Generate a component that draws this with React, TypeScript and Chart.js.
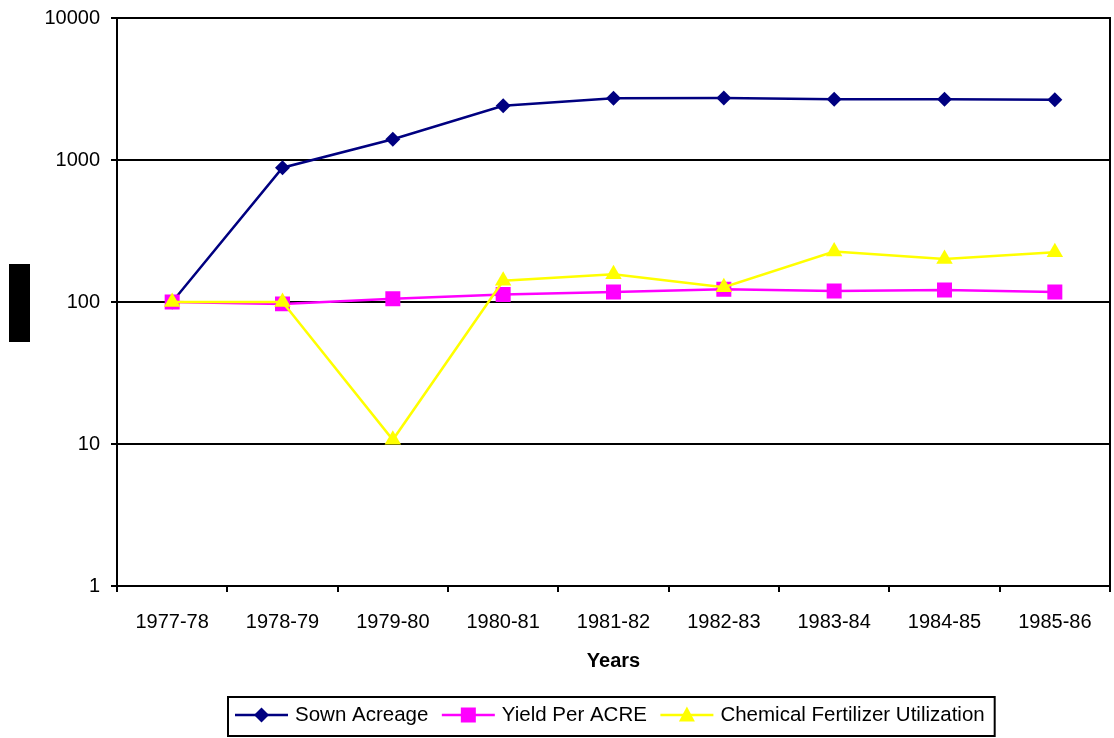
import React, { useEffect, useRef } from 'react';
import { Chart, registerables } from 'chart.js';

Chart.register(...registerables);

const categories = ['1977-78', '1978-79', '1979-80', '1980-81', '1981-82', '1982-83', '1983-84', '1984-85', '1985-86'];
const sownAcreage = [100, 883, 1399, 2411, 2720, 2733, 2676, 2676, 2658];
const yieldPerAcre = [100, 97, 105.5, 113, 117.6, 122.9, 119.5, 121.5, 117.6];
const fertilizerUtilization = [100, 100, 10.7, 141, 157, 127, 227, 201, 224];
const yTickValues = [1, 10, 100, 1000, 10000];
const seriesLabels = ['Sown Acreage', 'Yield Per ACRE', 'Chemical Fertilizer Utilization'];
const seriesColors = ['#000080', '#FF00FF', '#FFFF00'];
const xAxisTitle = 'Years';

const FONT = "'Liberation Sans', Arial, sans-serif";

function drawMarker(ctx: CanvasRenderingContext2D, kind: number, cx: number, cy: number, color: string) {
  ctx.fillStyle = color;
  ctx.beginPath();
  if (kind === 0) {
    const r = 7.5;
    ctx.moveTo(cx - r, cy);
    ctx.lineTo(cx, cy - r);
    ctx.lineTo(cx + r, cy);
    ctx.lineTo(cx, cy + r);
  } else if (kind === 1) {
    ctx.rect(cx - 7.5, cy - 7.5, 15, 15);
  } else {
    ctx.moveTo(cx, cy - 8.5);
    ctx.lineTo(cx + 8, cy + 6.5);
    ctx.lineTo(cx - 8, cy + 6.5);
  }
  ctx.closePath();
  ctx.fill();
}

function zeroPad(s: any) {
  s.paddingTop = 0;
  s.paddingBottom = 0;
  s.paddingLeft = 0;
  s.paddingRight = 0;
}

export default function App() {
  const ref = useRef<HTMLCanvasElement>(null);

  useEffect(() => {
    document.body.style.margin = '0';
    const canvas = ref.current;
    if (!canvas) return;

    const decor = {
      id: 'decor',
      beforeDatasetsDraw(chart: any) {
        const { ctx, chartArea } = chart;
        ctx.save();
        ctx.strokeStyle = '#000';
        ctx.lineWidth = 2;
        ctx.beginPath();
        ctx.moveTo(chartArea.right, chartArea.top - 1);
        ctx.lineTo(chartArea.right, chartArea.bottom);
        ctx.stroke();
        ctx.restore();
      },
      afterDraw(chart: any) {
        const { ctx, chartArea } = chart;
        ctx.save();
        // dark block at the left (axis title placeholder)
        ctx.fillStyle = '#000';
        ctx.fillRect(9, 264, 21, 78);

        // legend
        ctx.font = `20.5px ${FONT}`;
        const lineLen = 53;
        const gapText = 7;
        const gapItem = 13.5;
        const padL = 7;
        const padR = 10;
        const widths = seriesLabels.map((l) => ctx.measureText(l).width);
        let total = padL + padR + gapItem * (seriesLabels.length - 1);
        widths.forEach((w) => (total += lineLen + gapText + w));
        const center = (chartArea.left + chartArea.right) / 2 - 2;
        const boxLeft = Math.round(center - total / 2);
        const boxTop = chart.height - 41;
        const boxH = 39;
        ctx.strokeStyle = '#000';
        ctx.lineWidth = 2;
        ctx.strokeRect(boxLeft, boxTop, total, boxH);
        const cy = boxTop + boxH / 2 - 1.5;
        let x = boxLeft + padL;
        seriesLabels.forEach((label, i) => {
          ctx.strokeStyle = seriesColors[i];
          ctx.lineWidth = 2.5;
          ctx.beginPath();
          ctx.moveTo(x, cy);
          ctx.lineTo(x + lineLen, cy);
          ctx.stroke();
          drawMarker(ctx, i, x + lineLen / 2, cy, seriesColors[i]);
          ctx.fillStyle = '#000';
          ctx.textBaseline = 'middle';
          ctx.textAlign = 'left';
          ctx.fillText(label, x + lineLen + gapText, cy);
          x += lineLen + gapText + widths[i] + gapItem;
        });
        ctx.restore();
      },
    };

    const chart = new Chart(canvas, {
      type: 'line',
      data: {
        labels: categories,
        datasets: [
          {
            label: seriesLabels[0],
            data: sownAcreage,
            borderColor: seriesColors[0],
            backgroundColor: seriesColors[0],
            borderWidth: 2.5,
            pointStyle: 'rectRot',
            pointRadius: 7.5,
            pointBorderWidth: 0,
            order: 2,
          },
          {
            label: seriesLabels[1],
            data: yieldPerAcre,
            borderColor: seriesColors[1],
            backgroundColor: seriesColors[1],
            borderWidth: 2.5,
            pointStyle: 'rect',
            pointRadius: 10.6,
            pointBorderWidth: 0,
            order: 1,
          },
          {
            label: seriesLabels[2],
            data: fertilizerUtilization,
            borderColor: seriesColors[2],
            backgroundColor: seriesColors[2],
            borderWidth: 2.5,
            pointStyle: 'triangle',
            pointRadius: 9.5,
            pointBorderWidth: 0,
            order: 0,
          },
        ],
      },
      options: {
        responsive: false,
        animation: false,
        devicePixelRatio: 1,
        events: [],
        layout: { autoPadding: false, padding: { top: 18, right: 4, bottom: 65, left: 0 } },
        elements: { line: { tension: 0 } },
        plugins: {
          legend: { display: false },
          tooltip: { enabled: false },
        },
        scales: {
          x: {
            type: 'category',
            offset: true,
            grid: {
              offset: true,
              drawOnChartArea: false,
              drawTicks: true,
              tickLength: 6,
              color: '#000',
              lineWidth: 2,
            },
            border: { display: true, color: '#000', width: 2 },
            ticks: {
              color: '#000',
              font: { family: FONT, size: 20 },
              padding: 18,
              maxRotation: 0,
              autoSkip: false,
            },
            title: {
              display: true,
              text: xAxisTitle,
              color: '#000',
              font: { family: FONT, size: 20, weight: 'bold' },
              padding: 0,
            },
            afterFit: (s: any) => {
              s.height = 87;
              zeroPad(s);
            },
          },
          y: {
            type: 'logarithmic',
            min: 1,
            max: 10000,
            afterBuildTicks: (s: any) => {
              s.ticks = yTickValues.map((v) => ({ value: v }));
            },
            grid: { color: '#000', lineWidth: 2, tickLength: 6 },
            border: { display: true, color: '#000', width: 2 },
            ticks: {
              color: '#000',
              font: { family: FONT, size: 20 },
              padding: 11,
              autoSkip: false,
              callback: (v: any) => String(v),
            },
            afterFit: (s: any) => {
              s.width = 117;
              zeroPad(s);
            },
          },
        },
      } as any,
      plugins: [decor],
    });

    return () => chart.destroy();
  }, []);

  return (
    <div style={{ position: 'fixed', left: 0, top: 0, width: 1114, height: 738, background: '#fff' }}>
      <canvas ref={ref} width={1114} height={738} style={{ display: 'block' }} />
    </div>
  );
}
